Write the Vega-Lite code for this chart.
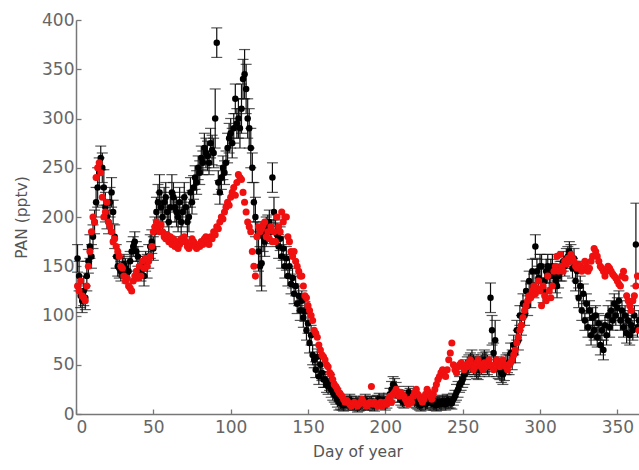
{
"$schema":"https://vega.github.io/schema/vega-lite/v6.json",
"width":563,"height":394,"autosize":"none",
"padding":{"left":76,"top":20,"right":0,"bottom":56},
"background":"white",
"config":{"view":{"stroke":null},
"axis":{"domainColor":"#777","domainWidth":1.5,"tickColor":"#777","tickWidth":1.3,"tickSize":-5,"labelColor":"#666","labelFont":"DejaVu Sans","labelFontSize":17,"titleFont":"DejaVu Sans","titleFontSize":15.5,"titleColor":"#555","titleFontWeight":"normal","grid":false,"labelPadding":8}},
"datasets":{
"black":[
{"d":1,"v":158,"e":14},{"d":2,"v":140,"e":15},{"d":3,"v":120,"e":12},{"d":4,"v":115,"e":12},{"d":5,"v":125,"e":15},{"d":6,"v":118,"e":12},{"d":7,"v":140,"e":15},{"d":8,"v":155,"e":12},{"d":9,"v":170,"e":12},{"d":10,"v":160,"e":12},
{"d":11,"v":180,"e":12},{"d":12,"v":195,"e":12},{"d":13,"v":215,"e":15},{"d":14,"v":230,"e":20},{"d":15,"v":245,"e":15},{"d":16,"v":260,"e":12},{"d":17,"v":250,"e":15},{"d":18,"v":230,"e":18},{"d":19,"v":210,"e":15},{"d":20,"v":200,"e":12},
{"d":21,"v":195,"e":12},{"d":22,"v":215,"e":15},{"d":23,"v":225,"e":15},{"d":24,"v":205,"e":12},{"d":25,"v":180,"e":12},{"d":26,"v":160,"e":12},{"d":27,"v":150,"e":10},{"d":28,"v":148,"e":10},{"d":29,"v":145,"e":10},{"d":30,"v":150,"e":10},
{"d":31,"v":152,"e":10},{"d":32,"v":148,"e":10},{"d":33,"v":143,"e":10},{"d":34,"v":145,"e":10},{"d":35,"v":155,"e":10},{"d":36,"v":165,"e":10},{"d":37,"v":170,"e":10},{"d":38,"v":175,"e":10},{"d":39,"v":165,"e":10},{"d":40,"v":160,"e":10},
{"d":41,"v":150,"e":10},{"d":42,"v":145,"e":10},{"d":43,"v":150,"e":10},{"d":44,"v":140,"e":10},{"d":45,"v":155,"e":10},{"d":46,"v":150,"e":12},{"d":47,"v":160,"e":12},{"d":48,"v":170,"e":12},{"d":49,"v":175,"e":12},{"d":50,"v":168,"e":12},
{"d":51,"v":185,"e":15},{"d":52,"v":205,"e":15},{"d":53,"v":215,"e":18},{"d":54,"v":225,"e":18},{"d":55,"v":210,"e":15},{"d":56,"v":200,"e":15},{"d":57,"v":215,"e":15},{"d":58,"v":220,"e":15},{"d":59,"v":205,"e":15},{"d":60,"v":195,"e":15},
{"d":61,"v":210,"e":15},{"d":62,"v":225,"e":18},{"d":63,"v":220,"e":15},{"d":64,"v":210,"e":15},{"d":65,"v":205,"e":15},{"d":66,"v":200,"e":15},{"d":67,"v":215,"e":15},{"d":68,"v":195,"e":15},{"d":69,"v":205,"e":15},{"d":70,"v":220,"e":15},
{"d":71,"v":210,"e":15},{"d":72,"v":195,"e":15},{"d":73,"v":200,"e":15},{"d":74,"v":225,"e":15},{"d":75,"v":215,"e":12},{"d":76,"v":230,"e":12},{"d":77,"v":240,"e":12},{"d":78,"v":235,"e":12},{"d":79,"v":250,"e":12},{"d":80,"v":245,"e":12},
{"d":81,"v":260,"e":12},{"d":82,"v":255,"e":12},{"d":83,"v":270,"e":15},{"d":84,"v":265,"e":15},{"d":85,"v":262,"e":15},{"d":86,"v":255,"e":12},{"d":87,"v":275,"e":15},{"d":88,"v":268,"e":15},{"d":89,"v":265,"e":15},{"d":90,"v":300,"e":30},
{"d":91,"v":377,"e":15},{"d":92,"v":235,"e":12},{"d":93,"v":225,"e":12},{"d":94,"v":240,"e":12},{"d":95,"v":250,"e":12},{"d":96,"v":245,"e":12},{"d":97,"v":255,"e":12},{"d":98,"v":270,"e":15},{"d":99,"v":280,"e":15},{"d":100,"v":285,"e":15},
{"d":101,"v":275,"e":15},{"d":102,"v":290,"e":15},{"d":103,"v":320,"e":15},{"d":104,"v":295,"e":15},{"d":105,"v":300,"e":20},{"d":106,"v":290,"e":20},{"d":107,"v":310,"e":25},{"d":108,"v":340,"e":20},{"d":109,"v":345,"e":25},{"d":110,"v":330,"e":25},
{"d":111,"v":300,"e":20},{"d":112,"v":290,"e":20},{"d":113,"v":270,"e":20},{"d":114,"v":250,"e":15},{"d":115,"v":215,"e":20},{"d":116,"v":200,"e":20},{"d":117,"v":180,"e":15},{"d":118,"v":165,"e":20},{"d":119,"v":150,"e":20},{"d":120,"v":153,"e":28},
{"d":121,"v":180,"e":15},{"d":122,"v":175,"e":15},{"d":123,"v":185,"e":15},{"d":124,"v":190,"e":12},{"d":125,"v":195,"e":12},{"d":126,"v":185,"e":12},{"d":127,"v":240,"e":15},{"d":128,"v":205,"e":15},{"d":129,"v":185,"e":12},{"d":130,"v":182,"e":12},
{"d":131,"v":170,"e":12},{"d":132,"v":178,"e":12},{"d":133,"v":160,"e":12},{"d":134,"v":168,"e":12},{"d":135,"v":150,"e":12},{"d":136,"v":158,"e":12},{"d":137,"v":140,"e":10},{"d":138,"v":150,"e":10},{"d":139,"v":132,"e":10},{"d":140,"v":138,"e":10},
{"d":141,"v":122,"e":10},{"d":142,"v":130,"e":10},{"d":143,"v":112,"e":10},{"d":144,"v":120,"e":10},{"d":145,"v":105,"e":10},{"d":146,"v":115,"e":10},{"d":147,"v":98,"e":10},{"d":148,"v":104,"e":10},{"d":149,"v":85,"e":10},{"d":150,"v":92,"e":10},
{"d":151,"v":72,"e":10},{"d":152,"v":80,"e":10},{"d":153,"v":60,"e":10},{"d":154,"v":55,"e":8},{"d":155,"v":45,"e":8},{"d":156,"v":58,"e":8},{"d":157,"v":38,"e":8},{"d":158,"v":50,"e":8},{"d":159,"v":42,"e":8},{"d":160,"v":35,"e":8},
{"d":161,"v":35,"e":8},{"d":162,"v":30,"e":8},{"d":163,"v":28,"e":8},{"d":164,"v":32,"e":8},{"d":165,"v":25,"e":8},{"d":166,"v":22,"e":8},{"d":167,"v":20,"e":8},{"d":168,"v":18,"e":8},{"d":169,"v":15,"e":8},{"d":170,"v":12,"e":8},
{"d":171,"v":11,"e":6},{"d":172,"v":10,"e":6},{"d":173,"v":9,"e":6},{"d":174,"v":12,"e":6},{"d":175,"v":12,"e":6},{"d":176,"v":10,"e":6},{"d":177,"v":14,"e":6},{"d":178,"v":12,"e":6},{"d":179,"v":10,"e":6},{"d":180,"v":10,"e":6},
{"d":181,"v":12,"e":6},{"d":182,"v":8,"e":6},{"d":183,"v":9,"e":6},{"d":184,"v":10,"e":6},{"d":185,"v":11,"e":6},{"d":186,"v":12,"e":6},{"d":187,"v":14,"e":6},{"d":188,"v":10,"e":6},{"d":189,"v":10,"e":6},{"d":190,"v":12,"e":6},
{"d":191,"v":12,"e":6},{"d":192,"v":10,"e":6},{"d":193,"v":9,"e":6},{"d":194,"v":12,"e":6},{"d":195,"v":13,"e":6},{"d":196,"v":15,"e":6},{"d":197,"v":11,"e":6},{"d":198,"v":12,"e":6},{"d":199,"v":14,"e":6},{"d":200,"v":10,"e":6},
{"d":201,"v":12,"e":6},{"d":202,"v":15,"e":6},{"d":203,"v":20,"e":6},{"d":204,"v":25,"e":8},{"d":205,"v":30,"e":8},{"d":206,"v":28,"e":8},{"d":207,"v":24,"e":8},{"d":208,"v":20,"e":8},{"d":209,"v":18,"e":6},{"d":210,"v":15,"e":6},
{"d":211,"v":13,"e":6},{"d":212,"v":12,"e":6},{"d":213,"v":15,"e":6},{"d":214,"v":18,"e":6},{"d":215,"v":22,"e":6},{"d":216,"v":20,"e":6},{"d":217,"v":17,"e":6},{"d":218,"v":15,"e":6},{"d":219,"v":13,"e":6},{"d":220,"v":12,"e":6},
{"d":221,"v":11,"e":6},{"d":222,"v":10,"e":6},{"d":223,"v":9,"e":6},{"d":224,"v":12,"e":6},{"d":225,"v":13,"e":6},{"d":226,"v":10,"e":6},{"d":227,"v":11,"e":6},{"d":228,"v":15,"e":6},{"d":229,"v":12,"e":6},{"d":230,"v":12,"e":6},
{"d":231,"v":10,"e":6},{"d":232,"v":10,"e":6},{"d":233,"v":9,"e":6},{"d":234,"v":12,"e":6},{"d":235,"v":11,"e":6},{"d":236,"v":10,"e":6},{"d":237,"v":13,"e":6},{"d":238,"v":12,"e":6},{"d":239,"v":10,"e":6},{"d":240,"v":14,"e":6},
{"d":241,"v":12,"e":6},{"d":242,"v":12,"e":6},{"d":243,"v":11,"e":6},{"d":244,"v":15,"e":6},{"d":245,"v":18,"e":6},{"d":246,"v":22,"e":8},{"d":247,"v":25,"e":8},{"d":248,"v":30,"e":8},{"d":249,"v":32,"e":8},{"d":250,"v":35,"e":8},
{"d":251,"v":40,"e":10},{"d":252,"v":45,"e":10},{"d":253,"v":48,"e":10},{"d":254,"v":50,"e":10},{"d":255,"v":52,"e":10},{"d":256,"v":55,"e":10},{"d":257,"v":50,"e":10},{"d":258,"v":48,"e":10},{"d":259,"v":46,"e":10},{"d":260,"v":45,"e":10},
{"d":261,"v":48,"e":10},{"d":262,"v":50,"e":10},{"d":263,"v":52,"e":10},{"d":264,"v":55,"e":10},{"d":265,"v":53,"e":10},{"d":266,"v":50,"e":10},{"d":267,"v":48,"e":10},{"d":268,"v":118,"e":15},{"d":269,"v":85,"e":15},{"d":270,"v":62,"e":10},
{"d":271,"v":75,"e":20},{"d":272,"v":48,"e":10},{"d":273,"v":46,"e":10},{"d":274,"v":45,"e":10},{"d":275,"v":42,"e":10},{"d":276,"v":40,"e":10},{"d":277,"v":44,"e":10},{"d":278,"v":50,"e":10},{"d":279,"v":52,"e":10},{"d":280,"v":50,"e":10},
{"d":281,"v":62,"e":10},{"d":282,"v":55,"e":10},{"d":283,"v":70,"e":10},{"d":284,"v":62,"e":10},{"d":285,"v":85,"e":10},{"d":286,"v":75,"e":10},{"d":287,"v":100,"e":10},{"d":288,"v":90,"e":10},{"d":289,"v":112,"e":10},{"d":290,"v":100,"e":10},
{"d":291,"v":125,"e":10},{"d":292,"v":110,"e":10},{"d":293,"v":135,"e":10},{"d":294,"v":120,"e":12},{"d":295,"v":145,"e":12},{"d":296,"v":130,"e":12},{"d":297,"v":170,"e":12},{"d":298,"v":145,"e":12},{"d":299,"v":138,"e":12},{"d":300,"v":150,"e":12},
{"d":301,"v":150,"e":12},{"d":302,"v":125,"e":12},{"d":303,"v":135,"e":12},{"d":304,"v":145,"e":12},{"d":305,"v":150,"e":12},{"d":306,"v":140,"e":12},{"d":307,"v":145,"e":12},{"d":308,"v":150,"e":12},{"d":309,"v":140,"e":12},{"d":310,"v":135,"e":12},
{"d":311,"v":130,"e":12},{"d":312,"v":140,"e":12},{"d":313,"v":145,"e":10},{"d":314,"v":145,"e":10},{"d":315,"v":155,"e":10},{"d":316,"v":150,"e":10},{"d":317,"v":158,"e":10},{"d":318,"v":160,"e":10},{"d":319,"v":165,"e":10},{"d":320,"v":162,"e":10},
{"d":321,"v":148,"e":10},{"d":322,"v":158,"e":10},{"d":323,"v":135,"e":10},{"d":324,"v":145,"e":10},{"d":325,"v":118,"e":10},{"d":326,"v":130,"e":10},{"d":327,"v":105,"e":10},{"d":328,"v":122,"e":10},{"d":329,"v":95,"e":10},{"d":330,"v":112,"e":10},
{"d":331,"v":88,"e":10},{"d":332,"v":105,"e":10},{"d":333,"v":80,"e":10},{"d":334,"v":98,"e":10},{"d":335,"v":85,"e":10},{"d":336,"v":100,"e":10},{"d":337,"v":78,"e":10},{"d":338,"v":92,"e":10},{"d":339,"v":70,"e":10},{"d":340,"v":85,"e":10},
{"d":341,"v":65,"e":10},{"d":342,"v":90,"e":10},{"d":343,"v":80,"e":10},{"d":344,"v":100,"e":10},{"d":345,"v":88,"e":10},{"d":346,"v":105,"e":10},{"d":347,"v":95,"e":10},{"d":348,"v":112,"e":10},{"d":349,"v":100,"e":10},{"d":350,"v":108,"e":10},
{"d":351,"v":115,"e":10},{"d":352,"v":95,"e":10},{"d":353,"v":105,"e":10},{"d":354,"v":88,"e":10},{"d":355,"v":100,"e":10},{"d":356,"v":82,"e":10},{"d":357,"v":95,"e":10},{"d":358,"v":80,"e":10},{"d":359,"v":90,"e":10},{"d":360,"v":85,"e":10},
{"d":361,"v":100,"e":10},{"d":362,"v":172,"e":42},{"d":363,"v":88,"e":10},{"d":364,"v":95,"e":10}
],
"red":[
{"d":1,"v":130},{"d":2,"v":125},{"d":3,"v":135},{"d":4,"v":120},{"d":5,"v":118},{"d":6,"v":115},{"d":7,"v":130},{"d":8,"v":150},{"d":9,"v":165},{"d":10,"v":185},
{"d":11,"v":200},{"d":12,"v":195},{"d":13,"v":240},{"d":14,"v":250},{"d":15,"v":255},{"d":16,"v":245},{"d":17,"v":220},{"d":18,"v":200},{"d":19,"v":205},{"d":20,"v":215},
{"d":21,"v":195},{"d":22,"v":190},{"d":23,"v":185},{"d":24,"v":175},{"d":25,"v":178},{"d":26,"v":170},{"d":27,"v":165},{"d":28,"v":160},{"d":29,"v":150},{"d":30,"v":148},
{"d":31,"v":140},{"d":32,"v":135},{"d":33,"v":138},{"d":34,"v":130},{"d":35,"v":128},{"d":36,"v":125},{"d":37,"v":135},{"d":38,"v":140},{"d":39,"v":145},{"d":40,"v":138},
{"d":41,"v":150},{"d":42,"v":140},{"d":43,"v":155},{"d":44,"v":148},{"d":45,"v":158},{"d":46,"v":150},{"d":47,"v":155},{"d":48,"v":160},{"d":49,"v":170},{"d":50,"v":185},
{"d":51,"v":190},{"d":52,"v":195},{"d":53,"v":188},{"d":54,"v":185},{"d":55,"v":192},{"d":56,"v":185},{"d":57,"v":180},{"d":58,"v":178},{"d":59,"v":182},{"d":60,"v":175},
{"d":61,"v":180},{"d":62,"v":172},{"d":63,"v":178},{"d":64,"v":170},{"d":65,"v":175},{"d":66,"v":168},{"d":67,"v":172},{"d":68,"v":178},{"d":69,"v":175},{"d":70,"v":180},
{"d":71,"v":175},{"d":72,"v":170},{"d":73,"v":168},{"d":74,"v":172},{"d":75,"v":178},{"d":76,"v":175},{"d":77,"v":170},{"d":78,"v":168},{"d":79,"v":172},{"d":80,"v":170},
{"d":81,"v":175},{"d":82,"v":172},{"d":83,"v":178},{"d":84,"v":180},{"d":85,"v":175},{"d":86,"v":172},{"d":87,"v":180},{"d":88,"v":178},{"d":89,"v":185},{"d":90,"v":182},
{"d":91,"v":190},{"d":92,"v":188},{"d":93,"v":195},{"d":94,"v":200},{"d":95,"v":198},{"d":96,"v":205},{"d":97,"v":210},{"d":98,"v":215},{"d":99,"v":212},{"d":100,"v":220},
{"d":101,"v":225},{"d":102,"v":230},{"d":103,"v":222},{"d":104,"v":235},{"d":105,"v":243},{"d":106,"v":240},{"d":107,"v":238},{"d":108,"v":225},{"d":109,"v":215},{"d":110,"v":205},
{"d":111,"v":195},{"d":112,"v":190},{"d":113,"v":185},{"d":114,"v":165},{"d":115,"v":150},{"d":116,"v":140},{"d":117,"v":180},{"d":118,"v":190},{"d":119,"v":185},{"d":120,"v":188},
{"d":121,"v":192},{"d":122,"v":195},{"d":123,"v":180},{"d":124,"v":185},{"d":125,"v":178},{"d":126,"v":190},{"d":127,"v":175},{"d":128,"v":185},{"d":129,"v":175},{"d":130,"v":200},
{"d":131,"v":190},{"d":132,"v":185},{"d":133,"v":205},{"d":134,"v":195},{"d":135,"v":200},{"d":136,"v":200},{"d":137,"v":180},{"d":138,"v":175},{"d":139,"v":165},{"d":140,"v":160},
{"d":141,"v":165},{"d":142,"v":155},{"d":143,"v":150},{"d":144,"v":145},{"d":145,"v":140},{"d":146,"v":140},{"d":147,"v":130},{"d":148,"v":120},{"d":149,"v":118},{"d":150,"v":110},
{"d":151,"v":105},{"d":152,"v":100},{"d":153,"v":95},{"d":154,"v":85},{"d":155,"v":82},{"d":156,"v":78},{"d":157,"v":70},{"d":158,"v":65},{"d":159,"v":60},{"d":160,"v":58},
{"d":161,"v":55},{"d":162,"v":50},{"d":163,"v":48},{"d":164,"v":42},{"d":165,"v":40},{"d":166,"v":35},{"d":167,"v":30},{"d":168,"v":28},{"d":169,"v":25},{"d":170,"v":22},
{"d":171,"v":20},{"d":172,"v":18},{"d":173,"v":15},{"d":174,"v":12},{"d":175,"v":14},{"d":176,"v":12},{"d":177,"v":10},{"d":178,"v":8},{"d":179,"v":10},{"d":180,"v":12},
{"d":181,"v":10},{"d":182,"v":8},{"d":183,"v":10},{"d":184,"v":12},{"d":185,"v":15},{"d":186,"v":12},{"d":187,"v":10},{"d":188,"v":8},{"d":189,"v":10},{"d":190,"v":12},
{"d":191,"v":28},{"d":192,"v":10},{"d":193,"v":12},{"d":194,"v":10},{"d":195,"v":8},{"d":196,"v":10},{"d":197,"v":12},{"d":198,"v":8},{"d":199,"v":10},{"d":200,"v":12},
{"d":201,"v":10},{"d":202,"v":15},{"d":203,"v":18},{"d":204,"v":12},{"d":205,"v":20},{"d":206,"v":22},{"d":207,"v":25},{"d":208,"v":20},{"d":209,"v":18},{"d":210,"v":22},
{"d":211,"v":20},{"d":212,"v":18},{"d":213,"v":15},{"d":214,"v":12},{"d":215,"v":10},{"d":216,"v":15},{"d":217,"v":12},{"d":218,"v":18},{"d":219,"v":22},{"d":220,"v":25},
{"d":221,"v":20},{"d":222,"v":18},{"d":223,"v":15},{"d":224,"v":12},{"d":225,"v":15},{"d":226,"v":20},{"d":227,"v":25},{"d":228,"v":22},{"d":229,"v":18},{"d":230,"v":15},
{"d":231,"v":20},{"d":232,"v":25},{"d":233,"v":30},{"d":234,"v":35},{"d":235,"v":38},{"d":236,"v":42},{"d":237,"v":45},{"d":238,"v":40},{"d":239,"v":38},{"d":240,"v":45},
{"d":241,"v":55},{"d":242,"v":62},{"d":243,"v":72},{"d":244,"v":50},{"d":245,"v":45},{"d":246,"v":42},{"d":247,"v":48},{"d":248,"v":50},{"d":249,"v":52},{"d":250,"v":48},
{"d":251,"v":45},{"d":252,"v":50},{"d":253,"v":48},{"d":254,"v":52},{"d":255,"v":55},{"d":256,"v":50},{"d":257,"v":45},{"d":258,"v":48},{"d":259,"v":52},{"d":260,"v":55},
{"d":261,"v":50},{"d":262,"v":48},{"d":263,"v":45},{"d":264,"v":52},{"d":265,"v":48},{"d":266,"v":50},{"d":267,"v":55},{"d":268,"v":50},{"d":269,"v":48},{"d":270,"v":45},
{"d":271,"v":50},{"d":272,"v":55},{"d":273,"v":52},{"d":274,"v":48},{"d":275,"v":50},{"d":276,"v":55},{"d":277,"v":50},{"d":278,"v":48},{"d":279,"v":45},{"d":280,"v":50},
{"d":281,"v":52},{"d":282,"v":55},{"d":283,"v":60},{"d":284,"v":65},{"d":285,"v":72},{"d":286,"v":78},{"d":287,"v":85},{"d":288,"v":90},{"d":289,"v":98},{"d":290,"v":105},
{"d":291,"v":110},{"d":292,"v":115},{"d":293,"v":120},{"d":294,"v":118},{"d":295,"v":125},{"d":296,"v":130},{"d":297,"v":122},{"d":298,"v":128},{"d":299,"v":135},{"d":300,"v":125},
{"d":301,"v":110},{"d":302,"v":130},{"d":303,"v":120},{"d":304,"v":115},{"d":305,"v":140},{"d":306,"v":125},{"d":307,"v":118},{"d":308,"v":130},{"d":309,"v":145},{"d":310,"v":150},
{"d":311,"v":160},{"d":312,"v":145},{"d":313,"v":162},{"d":314,"v":150},{"d":315,"v":145},{"d":316,"v":155},{"d":317,"v":152},{"d":318,"v":158},{"d":319,"v":155},{"d":320,"v":162},
{"d":321,"v":158},{"d":322,"v":155},{"d":323,"v":150},{"d":324,"v":148},{"d":325,"v":152},{"d":326,"v":150},{"d":327,"v":145},{"d":328,"v":148},{"d":329,"v":155},{"d":330,"v":150},
{"d":331,"v":145},{"d":332,"v":148},{"d":333,"v":155},{"d":334,"v":160},{"d":335,"v":168},{"d":336,"v":165},{"d":337,"v":160},{"d":338,"v":155},{"d":339,"v":150},{"d":340,"v":148},
{"d":341,"v":145},{"d":342,"v":140},{"d":343,"v":145},{"d":344,"v":150},{"d":345,"v":148},{"d":346,"v":145},{"d":347,"v":142},{"d":348,"v":140},{"d":349,"v":138},{"d":350,"v":135},
{"d":351,"v":132},{"d":352,"v":130},{"d":353,"v":140},{"d":354,"v":145},{"d":355,"v":138},{"d":356,"v":120},{"d":357,"v":115},{"d":358,"v":110},{"d":359,"v":105},{"d":360,"v":115},
{"d":361,"v":120},{"d":362,"v":130},{"d":363,"v":140},{"d":364,"v":85}
]},
"encoding":{
"x":{"field":"d","type":"quantitative","title":"Day of year","scale":{"domain":[0,364],"nice":false},"axis":{"values":[0,50,100,150,200,250,300,350],"labelPadding":10,"titlePadding":9}},
"y":{"field":"v","type":"quantitative","title":"PAN (pptv)","scale":{"domain":[0,400],"nice":false},"axis":{"values":[0,50,100,150,200,250,300,350,400],"labelPadding":7,"titlePadding":12}}
},
"layer":[
{"data":{"name":"black"},"mark":{"type":"errorbar","ticks":{"size":11,"thickness":1.2},"rule":{"strokeWidth":1.2},"color":"#111"},"encoding":{"yError":{"field":"e"}}},
{"data":{"name":"black"},"mark":{"type":"circle","size":42,"color":"#000","opacity":1}},
{"data":{"name":"red"},"mark":{"type":"circle","size":50,"color":"#f01010","opacity":1}}
]
}
